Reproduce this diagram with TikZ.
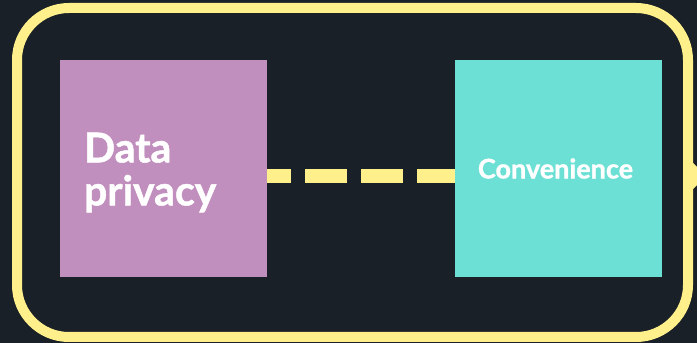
\documentclass[tikz,border=0pt]{standalone}
\usepackage{fontspec}
\setmainfont{Lato}[BoldFeatures={FakeBold=1.2}]
\usetikzlibrary{positioning}
\definecolor{bgdark}{RGB}{26,32,39}
\definecolor{frameyellow}{RGB}{255,240,140}
\definecolor{boxpurple}{RGB}{193,143,190}
\definecolor{boxteal}{RGB}{108,224,212}
\tikzset{
    card/.style={minimum width=207pt, minimum height=217pt, inner sep=0pt},
    cardtext/.style={inner sep=0pt, text=white, font=\bfseries},
    link/.style={frameyellow, line width=14pt, dash pattern=on 42pt off 14pt, dash phase=18pt}
}

\begin{document}
\begin{tikzpicture}[x=1pt,y=1pt]
                \fill [bgdark] (0,0) rectangle (697,343);
                \useasboundingbox (0,0) rectangle (697,343);
                \draw [frameyellow, line width=10pt, rounded corners=52pt] (17,6) rectangle (688,335);
                \fill [frameyellow] (688,185) -- (706,167) -- (688,149) -- cycle;
                \node [card, fill=boxpurple] (privacy) at (163.5,174.5) {};
                \node [card, fill=boxteal] (convenience) at (558.5,174.5) {};
                \node [cardtext, anchor=west, align=left, font=\bfseries\fontsize{41}{43}\selectfont]
                      (privacylabel) at ([xshift=24pt,yshift=-4pt]privacy.west) {Data\\privacy};
                \node [cardtext, font=\bfseries\fontsize{27}{30}\selectfont]
                      (conveniencelabel) at ([xshift=-3pt]convenience.center) {Convenience};
                \draw [link] ([yshift=-7.5pt]privacy.east) -- ([yshift=-7.5pt]convenience.west);
            \end{tikzpicture}
\end{document}
